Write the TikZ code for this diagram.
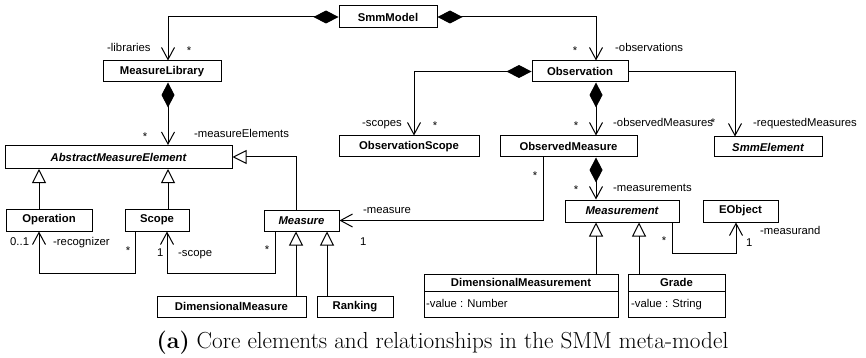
\documentclass[tikz,border=0pt]{standalone}
\usepackage{fontspec}
\newfontfamily\umlface{Liberation Sans}
\newcommand\umlfont{\umlface\fontsize{11.3pt}{13pt}\selectfont}
\usetikzlibrary{arrows.meta}

\tikzset{
  cls/.style={draw, line width=1pt, inner sep=0pt, font=\umlfont\bfseries, minimum height=21pt},
  abscls/.style={cls, font=\umlfont\bfseries\itshape},
  lbl/.style={font=\umlfont, inner sep=0pt, anchor=base west},
  mult/.style={font=\umlfont, inner sep=0pt, anchor=base},
  conn/.style={line width=1pt, line join=miter},
  comp/.style={conn, {Diamond[length=25pt,width=13pt]}-{Straight Barb[length=12pt,width=13pt]}},
  assoc/.style={conn, -{Straight Barb[length=12pt,width=13pt]}},
  gen/.style={conn, -{Triangle[open,length=14pt,width=14pt]}},
}

\begin{document}
\begin{tikzpicture}[x=1pt, y=-1pt]
\fill[white] (0,0) rectangle (866,358);
\useasboundingbox (0,0) rectangle (866,358);

% classes
\node[cls, minimum width=98pt, minimum height=22pt] (smm) at (388,17) {SmmModel};
\node[cls, minimum width=118pt] (mlib) at (162,71.5) {MeasureLibrary};
\node[cls, minimum width=96pt] (obs) at (580,71.5) {Observation};
\node[abscls, minimum width=227pt, minimum height=23pt] (ame) at (118.5,157) {AbstractMeasureElement};
\node[cls, minimum width=86pt, minimum height=22pt] (op) at (49,220) {Operation};
\node[cls, minimum width=64pt, minimum height=22pt] (scope) at (157,220) {Scope};
\node[abscls, minimum width=75pt] (measure) at (301.5,220.5) {Measure};
\node[cls, minimum width=140pt] (oscope) at (409,146.5) {ObservationScope};
\node[cls, minimum width=137pt] (om) at (568.5,146.5) {ObservedMeasure};
\node[abscls, minimum width=108pt, minimum height=20pt] (smmel) at (768,147) {SmmElement};
\node[abscls, minimum width=114pt, minimum height=22pt] (meas) at (622,211) {Measurement};
\node[cls, minimum width=75pt, minimum height=22pt] (eobj) at (740.5,211) {EObject};
\node[cls, minimum width=149pt] (dmeasure) at (231.5,306.5) {DimensionalMeasure};
\node[cls, minimum width=76pt] (ranking) at (355,306.5) {Ranking};
% classes with an attribute compartment
\node[cls, minimum width=194pt, minimum height=17pt] (dmhead) at (521,282.5) {DimensionalMeasurement};
\node[cls, minimum width=194pt, minimum height=26pt] (dmbody) at (521,304) {};
\node[cls, minimum width=97pt, minimum height=17pt] (grhead) at (676.5,282.5) {Grade};
\node[cls, minimum width=97pt, minimum height=26pt] (grbody) at (676.5,304) {};
\node[lbl] (dmattr) at (426,307) {-value : Number};
\node[lbl] (grattr) at (631,307) {-value : String};

% compositions
\draw[comp] (smm.west) -| ([xshift=6pt]mlib.north);
\draw[comp] (smm.east) -| ([xshift=16pt]obs.north);
\draw[comp] ([xshift=6pt]mlib.south) -- ([xshift=6pt]mlib.south |- ame.north);
\draw[comp] (obs.west) -| ([xshift=5pt]oscope.north);
\draw[comp] ([xshift=16pt]obs.south) -- ([xshift=16pt]obs.south |- om.north);
\draw[comp] ([xshift=27.5pt]om.south) -- ([xshift=27.5pt]om.south |- meas.north);

% associations
\draw[assoc] (obs.east) -| ([xshift=-33pt]smmel.north);
\draw[assoc] ([xshift=-25.5pt]om.south) |- (measure.east);
\draw[assoc] ([xshift=-22pt]scope.south) -- ++(0,42) -| ([xshift=-10pt]op.south);
\draw[assoc] ([xshift=-26.5pt]measure.south) -- ++(0,42) -| ([xshift=10pt]scope.south);
\draw[assoc] ([xshift=50pt]meas.south) -- ++(0,31) -| ([xshift=-4.5pt]eobj.south);

% generalizations
\draw[gen] ([xshift=-5.5pt]measure.north) |- (ame.east);
\draw[gen] ([xshift=-10pt]op.north) -- ([xshift=-10pt]op.north |- ame.south);
\draw[gen] ([xshift=11pt]scope.north) -- ([xshift=11pt]scope.north |- ame.south);
\draw[gen] ([xshift=-5.5pt]measure.south |- dmeasure.north) -- ([xshift=-5.5pt]measure.south);
\draw[gen] ([xshift=25.5pt]measure.south |- ranking.north) -- ([xshift=25.5pt]measure.south);
\draw[gen] ([xshift=-26pt]meas.south |- dmhead.north) -- ([xshift=-26pt]meas.south);
\draw[gen] ([xshift=17pt]meas.south |- grhead.north) -- ([xshift=17pt]meas.south);

% role names and multiplicities
\node[lbl] (r1) at (107,52) {-libraries};
\node[mult] (m1) at (189,54.5) {*};
\node[mult] (m2) at (575,54.5) {*};
\node[lbl] (r2) at (615,52) {-observations};
\node[lbl] (r3) at (362,127) {-scopes};
\node[mult] (m3) at (435,129.5) {*};
\node[mult] (m4) at (576,129.5) {*};
\node[lbl] (r4) at (613,127) {-observedMeasures};
\node[mult] (m5) at (713,127) {*};
\node[lbl] (r5) at (753,127) {-requestedMeasures};
\node[mult] (m6) at (145,140.5) {*};
\node[lbl] (r6) at (194,138) {-measureElements};
\node[mult] (m7) at (535,179.5) {*};
\node[lbl] (r7) at (363,213) {-measure};
\node[lbl] (m8) at (360,245) {1};
\node[mult] (m9) at (576,193.5) {*};
\node[lbl] (r8) at (613,191) {-measurements};
\node[lbl] (m10) at (10,245) {0..1};
\node[lbl] (r9) at (53,245) {-recognizer};
\node[mult] (m11) at (128,254.5) {*};
\node[lbl] (m12) at (157,256) {1};
\node[lbl] (r10) at (178,256) {-scope};
\node[mult] (m13) at (267,253.5) {*};
\node[mult] (m14) at (664,244.5) {*};
\node[lbl] (m15) at (746,246) {1};
\node[lbl] (r11) at (760,234) {-measurand};

% caption
\node[inner sep=0pt, font=\fontsize{23.2pt}{27pt}\selectfont] (caption) at (442.5,343)
  {\textbf{(a)} Core elements and relationships in the SMM meta-model};
\end{tikzpicture}
\end{document}
